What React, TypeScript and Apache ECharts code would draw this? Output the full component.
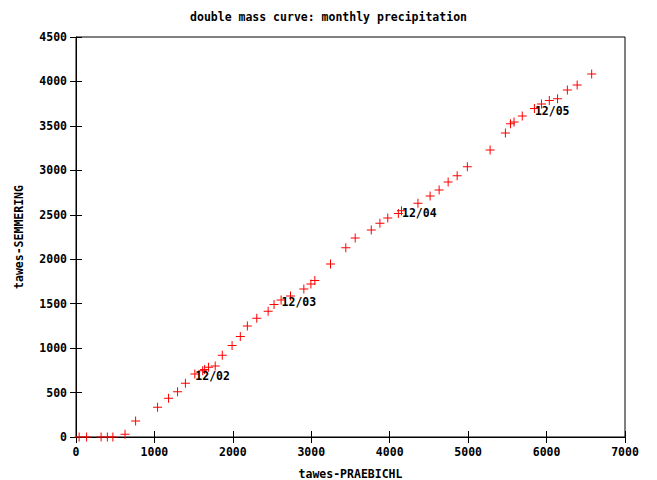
import React, { useEffect, useRef } from "react";
import * as echarts from "echarts";

const xValues = [40, 135, 320, 400, 470, 625, 760, 1040, 1180, 1295, 1395, 1515, 1615, 1640, 1690, 1775, 1865, 1990, 2095, 2185, 2305, 2450, 2525, 2615, 2735, 2905, 2995, 3045, 3245, 3440, 3560, 3765, 3875, 3975, 4110, 4150, 4360, 4515, 4630, 4745, 4860, 4990, 5280, 5475, 5540, 5585, 5690, 5845, 5935, 6035, 6140, 6265, 6390, 6575];
const yValues = [0, 0, 0, 0, 0, 30, 180, 335, 435, 510, 605, 710, 745, 760, 785, 800, 920, 1030, 1130, 1250, 1335, 1415, 1490, 1540, 1585, 1665, 1720, 1760, 1945, 2130, 2240, 2330, 2405, 2465, 2515, 2545, 2630, 2710, 2780, 2870, 2940, 3040, 3230, 3420, 3525, 3545, 3610, 3695, 3745, 3785, 3805, 3905, 3960, 4085];
const labelTexts = ["12/02", "12/03", "12/04", "12/05"];
const labelX = [1515, 2615, 4150, 5845];
const labelY = [710, 1540, 2545, 3695];

const title = "double mass curve: monthly precipitation";
const xName = "tawes-PRAEBICHL";
const yName = "tawes-SEMMERING";

const FONT = "DejaVu Sans Mono";
const FS = 11.5;

export default function App() {
  const ref = useRef<HTMLDivElement>(null);
  useEffect(() => {
    if (!ref.current) return;
    const chart = echarts.init(ref.current, undefined, { renderer: "svg" });
    const plus = "path://M4,0 h1 v4 h4 v1 h-4 v4 h-1 v-4 h-4 v-1 h4 z";
    const tickStyle = { inside: true, length: 6, lineStyle: { color: "#000", width: 1 } };
    const lbl = { fontFamily: FONT, fontSize: FS, fontWeight: "bold" as const, color: "#000" };
    const fmt = (v: number) => String(v);
    chart.setOption({
      animation: false,
      backgroundColor: "#fff",
      title: {
        text: title,
        left: "center",
        top: 6,
        textStyle: { ...lbl },
      },
      grid: {
        left: 76,
        right: 32,
        top: 37,
        bottom: 43,
        show: true,
        borderColor: "#000",
        borderWidth: 1,
        containLabel: false,
        outerBoundsMode: "none",
      },
      xAxis: [
        {
          type: "value",
          min: 0,
          max: 7000,
          interval: 1000,
          name: xName,
          nameLocation: "middle",
          nameGap: 31,
          nameTextStyle: { ...lbl },
          axisLine: { show: true, lineStyle: { color: "#000" } },
          axisTick: tickStyle,
          axisLabel: { ...lbl, margin: 9, formatter: fmt },
          splitLine: { show: false },
        },
        {
          type: "value",
          position: "top",
          min: 0,
          max: 7000,
          interval: 1000,
          axisLine: { show: false },
          axisTick: tickStyle,
          axisLabel: { show: false },
          splitLine: { show: false },
        },
      ],
      yAxis: [
        {
          type: "value",
          min: 0,
          max: 4500,
          interval: 500,
          name: yName,
          nameLocation: "middle",
          nameGap: 51,
          nameRotate: 90,
          nameTextStyle: { ...lbl },
          axisLine: { show: true, lineStyle: { color: "#000" } },
          axisTick: tickStyle,
          axisLabel: { ...lbl, margin: 9, formatter: fmt },
          splitLine: { show: false },
        },
        {
          type: "value",
          position: "right",
          min: 0,
          max: 4500,
          interval: 500,
          axisLine: { show: false },
          axisTick: tickStyle,
          axisLabel: { show: false },
          splitLine: { show: false },
        },
      ],
      series: [
        {
          type: "scatter",
          symbol: plus,
          symbolSize: 9,
          itemStyle: { color: "#ff0000", opacity: 1 },
          data: xValues.map((x, i) => [x, yValues[i]]),
        },
        {
          type: "scatter",
          symbol: "circle",
          symbolSize: 1,
          silent: true,
          itemStyle: { color: "rgba(0,0,0,0)", opacity: 1 },
          label: {
            show: true,
            position: "right",
            distance: 0,
            offset: [0, 2],
            formatter: (p: any) => p.data[2],
            ...lbl,
          },
          data: labelX.map((x, i) => [x, labelY[i], labelTexts[i]]),
        },
      ],
    });
    return () => chart.dispose();
  }, []);
  return (
    <div
      ref={ref}
      style={{ position: "fixed", left: 0, top: 0, width: 657, height: 480 }}
    />
  );
}
